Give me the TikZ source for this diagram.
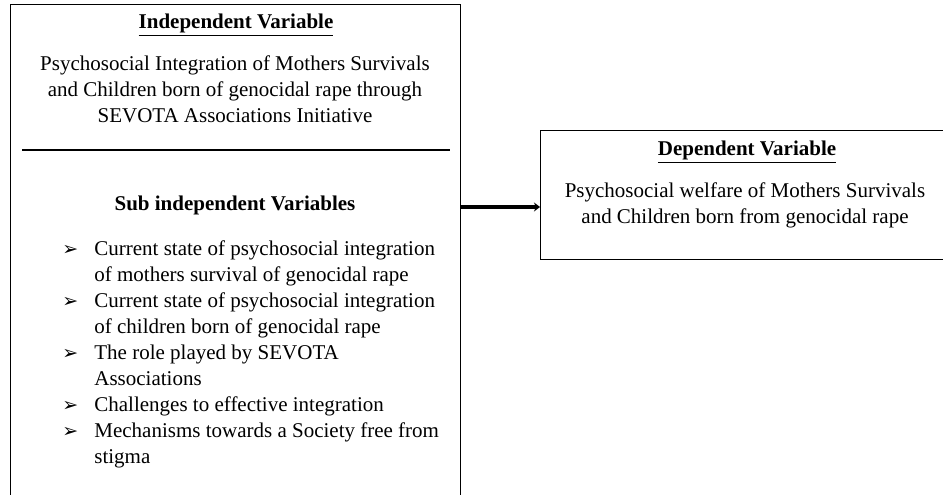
\documentclass[tikz,border=0pt]{standalone}
\usepackage{fontspec}
\setmainfont{Liberation Serif}
\newfontfamily\bulletfont{DejaVu Sans}
\usetikzlibrary{arrows.meta}

\newcommand{\itm}{\llap{\makebox[16pt][l]{\bulletfont\fontsize{9.5}{9.5}\selectfont ➢}}}

\tikzset{
  varbox/.style={draw, line width=0.6pt, inner sep=0pt, anchor=north west},
  txt/.style={inner sep=0pt, align=center, font=\fontsize{10.5}{13}\selectfont},
  link/.style={line width=2pt, -{Stealth[length=3pt,width=4.5pt]}},
}

\begin{document}
\begin{tikzpicture}[x=1pt,y=1pt]
  \useasboundingbox (0,0) rectangle (471.5,247);
  \clip (0,0) rectangle (471.5,247);

  \node[varbox, minimum width=225pt, minimum height=270pt] (indep) at (5,245) {};
  \node[varbox, minimum width=220pt, minimum height=64.5pt] (dep) at (270,182) {};
  \draw[line width=0.6pt] (11,172) -- (225,172);

  \node[txt] (indeptitle) at (118,234.5) {\underline{\textbf{Independent Variable}}};
  \node[txt] (indeptext) at (117.5,202.5) {Psychosocial Integration of Mothers Survivals\\
    and Children born of genocidal rape through\\
    SEVOTA Associations Initiative};
  \node[txt] (subtitle) at (117.5,144.5) {\textbf{Sub independent Variables}};
  \node[txt, align=left, anchor=west] (sublist) at (47,70) {\itm Current state of psychosocial integration\\
    of mothers survival of genocidal rape\\
    \itm Current state of psychosocial integration\\
    of children born of genocidal rape\\
    \itm The role played by SEVOTA\\
    Associations\\
    \itm Challenges to effective integration\\
    \itm Mechanisms towards a Society free from\\
    stigma};

  \node[txt] (deptitle) at (373.5,171) {\underline{\textbf{Dependent Variable}}};
  \node[txt] (deptext) at (372.5,144.25) {Psychosocial welfare of Mothers Survivals\\
    and Children born from genocidal rape};

  \coordinate (arrowy) at (0,143.5);
  \draw[link] (indep.east |- arrowy) -- (dep.west |- arrowy);
\end{tikzpicture}
\end{document}
